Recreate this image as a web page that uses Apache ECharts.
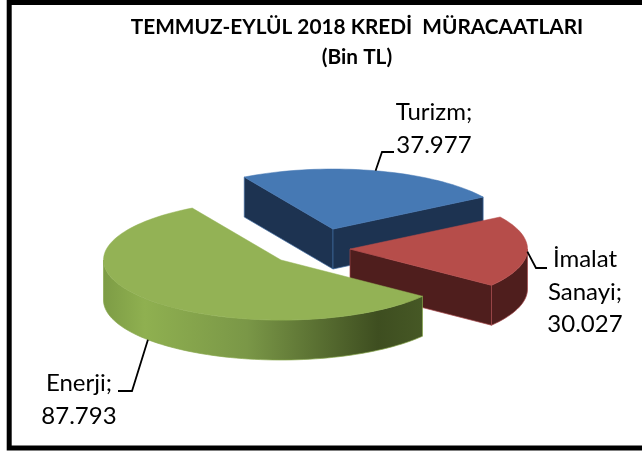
<!DOCTYPE html>
<html>
<head>
<meta charset="utf-8">
<style>html,body{margin:0;padding:0;background:#fff}#main{width:642px;height:451px}</style>
<script src="https://cdn.jsdelivr.net/npm/echarts@6/dist/echarts.min.js"></script>
</head>
<body>
<div id="main"></div>
<script>
var categories = ['Turizm', 'İmalat\nSanayi', 'Enerji'];
var values = [37977, 30027, 87793];

// slice colours: top face, wall, edge
var topColors = ['#4679b4', '#b64d4a', '#93b255'];
var wallColors = ['#1d3351', '#4f1e1d', '#6f8c3c'];
var edgeColors = ['#3f6a9f', '#a5484a', '#86a64c'];

// layout of the fake 3d pie
var rx = 177.5, ry = 60, depth = 40, startAngle = -30;
var apex = [[333, 229], [350, 249], [281, 260]];
var labelPos = [[434, 129], [585, 292], [79, 400]];
var leaderEnd = [[[382, 152], [394, 152]], [[536, 268], [547, 268]], [[132, 391], [118, 391]]];

var total = values.reduce(function (a, b) { return a + b; }, 0);

function pt(c, deg, dy) {
    var r = deg * Math.PI / 180;
    return [c[0] + rx * Math.sin(r), c[1] - ry * Math.cos(r) + (dy || 0)];
}
function arc(c, a0, a1, dy) {
    var pts = [], n = Math.max(2, Math.ceil(Math.abs(a1 - a0) / 2));
    for (var i = 0; i <= n; i++) {
        pts.push(pt(c, a0 + (a1 - a0) * i / n, dy));
    }
    return pts;
}
function wall(pts, fill, edge) {
    return { type: 'polygon', shape: { points: pts }, style: { fill: fill, stroke: edge, lineWidth: 0.7 } };
}
function cutWall(c, deg, fill, edge) {
    var p = pt(c, deg);
    return wall([[c[0], c[1]], p, [p[0], p[1] + depth], [c[0], c[1] + depth]], fill, edge);
}

function renderSlice(params, api) {
    var idx = api.value(0), val = api.value(1);
    var before = 0;
    for (var i = 0; i < idx; i++) before += values[i];
    var a0 = startAngle + before / total * 360;
    var a1 = a0 + val / total * 360;
    var c = apex[idx];
    var kids = [];

    // cut faces that look towards the viewer
    if (Math.sin(a0 * Math.PI / 180) < 0) kids.push(cutWall(c, a0, wallColors[idx], edgeColors[idx]));
    if (Math.sin(a1 * Math.PI / 180) > 0) kids.push(cutWall(c, a1, wallColors[idx], edgeColors[idx]));

    // outer rim, only the front half shows
    var f0 = Math.max(a0, 90), f1 = Math.min(a1, 270);
    if (f1 > f0) {
        var rimFill = wallColors[idx];
        if (idx === 2) {
            rimFill = new echarts.graphic.LinearGradient(0, 0, 1, 0, [
                { offset: 0, color: '#7d9c45' },
                { offset: 0.13, color: '#8fb050' },
                { offset: 0.45, color: '#7a9747' },
                { offset: 0.86, color: '#3e4e20' },
                { offset: 1, color: '#465825' }
            ]);
        }
        kids.push(wall(arc(c, f0, f1, 0).concat(arc(c, f1, f0, depth)), rimFill, edgeColors[idx]));
    }

    // top face
    var top = [[c[0], c[1]]].concat(arc(c, a0, a1, 0));
    kids.push({ type: 'polygon', shape: { points: top }, style: { fill: topColors[idx], stroke: topColors[idx], lineWidth: 0.5 } });

    // leader line from the middle of the arc
    var mid = (a0 + a1) / 2;
    var from = pt(c, mid, idx === 2 ? depth : 0);
    kids.push({
        type: 'polyline',
        shape: { points: [from].concat(leaderEnd[idx]) },
        style: { fill: 'none', stroke: '#000', lineWidth: 1.8 }
    });

    // data label
    kids.push({
        type: 'text',
        style: {
            x: labelPos[idx][0], y: labelPos[idx][1],
            text: categories[idx] + ';\n' + val.toLocaleString('de-DE'),
            font: '24px Lato', fill: '#000',
            textAlign: 'center', textVerticalAlign: 'middle', lineHeight: 32.5
        }
    });
    return { type: 'group', children: kids };
}

var seriesData = values.map(function (v, i) { return [i, v]; });

var option = {
    backgroundColor: '#fff',
    animation: false,
    title: {
        text: 'TEMMUZ-EYLÜL 2018 KREDİ  MÜRACAATLARI\n(Bin TL)',
        left: 352, top: 7, textAlign: 'center',
        textStyle: { fontFamily: 'Lato', fontSize: 20.8, fontWeight: 'bold', color: '#000', lineHeight: 30 }
    },
    graphic: [{
        type: 'rect', z: 100, silent: true,
        shape: { x: 9.2, y: 2.5, width: 700, height: 445.5 },
        style: { fill: 'none', stroke: '#000', lineWidth: 5 }
    }],
    series: [{
        type: 'custom',
        coordinateSystem: 'none',
        renderItem: renderSlice,
        data: seriesData,
        silent: true
    }]
};

var chart = echarts.init(document.getElementById('main'));
chart.setOption(option);
</script>
</body>
</html>
